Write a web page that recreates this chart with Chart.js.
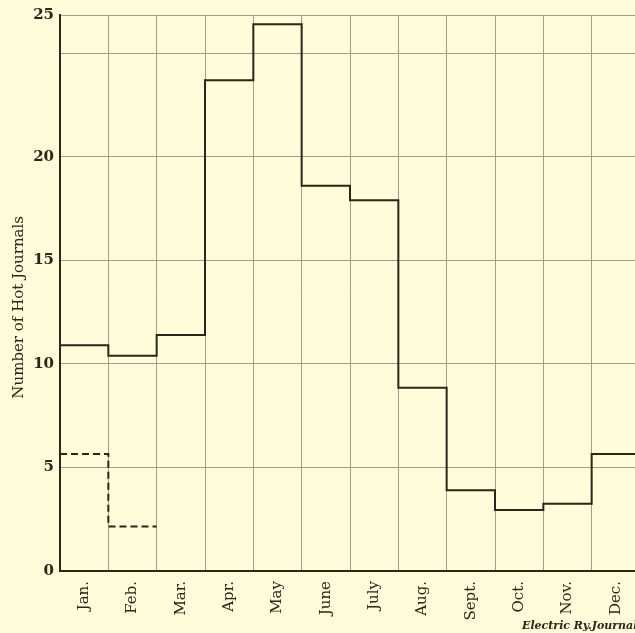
<!DOCTYPE html>
<html>
<head>
<meta charset="utf-8">
<script src="https://cdn.jsdelivr.net/npm/chart.js@4/dist/chart.umd.min.js"></script>
<style>
  html, body { margin: 0; padding: 0; overflow: hidden; background: #fdfbd9; }
  #wrap { position: relative; width: 640px; height: 633px; }
  #credit { position: absolute; left: 522px; top: 619px; font: italic bold 11px "DejaVu Serif", serif; color: #2a2618; white-space: nowrap; }
</style>
</head>
<body>
<div id="wrap">
  <canvas id="c" width="640" height="633"></canvas>
  <div id="credit">Electric Ry.Journal</div>
</div>
<script>
const months = ['Jan.', 'Feb.', 'Mar.', 'Apr.', 'May', 'June', 'July', 'Aug.', 'Sept.', 'Oct.', 'Nov.', 'Dec.'];
const hotJournals = [10.9, 10.4, 11.4, 23.7, 26.4, 18.6, 17.9, 8.85, 3.9, 2.95, 3.25, 5.65];
const dashedMonths = ['Jan.', 'Feb.'];
const dashedValues = [5.65, 2.15];
const yTickValues = [0, 5, 10, 15, 20, 25, 26.85];
const yTickLabels = ['0', '5', '10', '15', '20', '', '25'];
const yAxisTitle = 'Number of Hot Journals';

function stepPoints(vals) {
  const pts = vals.map((v, i) => ({ x: i, y: v }));
  pts.push({ x: vals.length, y: vals[vals.length - 1] });
  return pts;
}

const ink = '#2a2618';
const grid = '#a29e84';

new Chart(document.getElementById('c'), {
  type: 'line',
  data: {
    datasets: [
      {
        data: stepPoints(hotJournals),
        stepped: 'before',
        borderColor: ink,
        borderWidth: 2,
        pointRadius: 0,
        fill: false
      },
      {
        data: stepPoints(dashedValues),
        stepped: 'before',
        borderColor: ink,
        borderWidth: 2,
        borderDash: [7, 4],
        pointRadius: 0,
        fill: false
      }
    ]
  },
  options: {
    responsive: false,
    animation: false,
    layout: { padding: { top: 15, right: 0, left: 0, bottom: 0 } },
    plugins: { legend: { display: false }, tooltip: { enabled: false } },
    scales: {
      x: {
        type: 'linear',
        min: 0,
        max: 12,
        afterBuildTicks: (s) => {
          const t = [];
          for (let i = 0; i <= 24; i++) t.push({ value: i / 2 });
          s.ticks = t;
        },
        afterFit: (s) => { s.height = 62; s.paddingLeft = 0; s.paddingRight = 0; },
        grid: {
          color: (ctx) => (ctx.tick && Number.isInteger(ctx.tick.value)) ? grid : 'rgba(0,0,0,0)',
          lineWidth: 1,
          drawTicks: false
        },
        border: { display: true, color: ink, width: 2 },
        ticks: {
          autoSkip: false,
          minRotation: 90,
          maxRotation: 90,
          padding: 10,
          color: ink,
          font: { family: '"DejaVu Serif", serif', size: 15 },
          callback: (v) => Number.isInteger(v) ? '' : months[Math.floor(v)]
        }
      },
      y: {
        min: 0,
        max: 26.85,
        afterBuildTicks: (s) => { s.ticks = yTickValues.map(v => ({ value: v })); },
        afterFit: (s) => { s.width = 60; s.paddingTop = 0; s.paddingBottom = 0; },
        grid: { color: grid, lineWidth: 1, drawTicks: false },
        border: { display: true, color: ink, width: 2 },
        ticks: {
          autoSkip: false,
          padding: 6,
          color: ink,
          font: { family: '"DejaVu Serif", serif', size: 15, weight: 'bold' },
          callback: (v) => {
            const i = yTickValues.indexOf(v);
            return i >= 0 ? yTickLabels[i] : '';
          }
        },
        title: {
          display: true,
          text: yAxisTitle + '\u00a0\u00a0\u00a0\u00a0\u00a0\u00a0',
          color: ink,
          padding: { top: 10, bottom: 0 },
          font: { family: '"DejaVu Serif", serif', size: 15 }
        }
      }
    }
  }
});
</script>
</body>
</html>
